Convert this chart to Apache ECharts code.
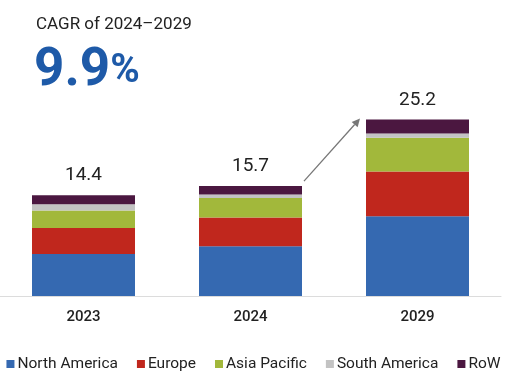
<!DOCTYPE html>
<html>
<head>
<meta charset="utf-8">
<script src="https://cdn.jsdelivr.net/npm/echarts@6/dist/echarts.min.js"></script>
<style>html,body{margin:0;padding:0;background:#fff;}#c{width:507px;height:381px;}</style>
</head>
<body>
<div id="c"></div>
<script>
const categories = ['2023', '2024', '2029'];
const northAmerica = [6.0, 7.1, 11.4];
const europe = [3.7, 4.1, 6.4];
const asiaPacific = [2.5, 2.8, 4.8];
const southAmerica = [0.9, 0.5, 0.6];
const row = [1.3, 1.2, 2.0];
const totals = [14.4, 15.7, 25.2];
const cagrTitle = 'CAGR of 2024–2029';
const cagrValue = '9.9';

const chart = echarts.init(document.getElementById('c'));
const font = 'Roboto';
function bar(name, data, color, extra) {
  return Object.assign({
    name: name, type: 'bar', stack: 'total', data: data, barWidth: 103,
    itemStyle: { color: color }
  }, extra || {});
}
chart.setOption({
  animation: false,
  textStyle: { fontFamily: font },
  title: [
    { text: cagrTitle, left: 31, top: 11, textStyle: { fontFamily: font, fontSize: 17, fontWeight: 'normal', color: '#222' } },
    { text: '{a|' + cagrValue + '}{b|%}', left: 29, top: 40,
      textStyle: { rich: {
        a: { fontFamily: font, fontSize: 53, fontWeight: 'bold', color: '#1e5aa8' },
        b: { fontFamily: font, fontSize: 40, fontWeight: 'bold', color: '#1e5aa8' }
      } } }
  ],
  legend: {
    bottom: 4, left: 'center', itemWidth: 8, itemHeight: 8, itemGap: 19,
    icon: 'rect',
    textStyle: { fontFamily: font, fontSize: 15.5, color: '#222', padding: [0, 0, 0, -2] },
    data: ['North America', 'Europe', 'Asia Pacific', 'South America', 'RoW']
  },
  grid: { left: 0, right: 6, top: 86, bottom: 85 },
  xAxis: {
    type: 'category', data: categories,
    axisLine: { lineStyle: { color: '#dcdcdc', width: 1 } },
    axisTick: { show: false },
    axisLabel: { fontFamily: font, fontSize: 15, fontWeight: 500, color: '#222', margin: 14 }
  },
  yAxis: { type: 'value', min: 0, max: 30, show: false, splitLine: { show: false } },
  series: [
    bar('North America', northAmerica, '#3569b1'),
    bar('Europe', europe, '#c0271d'),
    bar('Asia Pacific', asiaPacific, '#a2b83b'),
    bar('South America', southAmerica, '#c3c3c3'),
    bar('RoW', row, '#4b1740', {
      label: { show: true, position: 'top', distance: 10,
        formatter: p => totals[p.dataIndex].toFixed(1),
        fontFamily: font, fontSize: 19, color: '#222' }
    })
  ]
});

// arrow from 2024 bar to 2029 bar, computed from the axis scales
const halfW = 103 / 2;
const p24 = chart.convertToPixel({ seriesIndex: 0 }, [1, totals[1]]);
const p29 = chart.convertToPixel({ seriesIndex: 0 }, [2, totals[2]]);
const x1 = p24[0] + halfW + 2, y1 = p24[1] - 5;
const x2 = p29[0] - halfW - 6, y2 = p29[1] - 1;
const ang = Math.atan2(y2 - y1, x2 - x1);
const hl = 8, hw = 4;
const bx = x2 - hl * Math.cos(ang), by = y2 - hl * Math.sin(ang);
chart.setOption({
  graphic: [
    { type: 'line', shape: { x1: x1, y1: y1, x2: bx, y2: by }, style: { stroke: '#777', lineWidth: 1.3 } },
    { type: 'polygon', shape: { points: [
      [x2, y2],
      [bx + hw * Math.sin(ang), by - hw * Math.cos(ang)],
      [bx - hw * Math.sin(ang), by + hw * Math.cos(ang)]
    ] }, style: { fill: '#777' } }
  ]
});
</script>
</body>
</html>
